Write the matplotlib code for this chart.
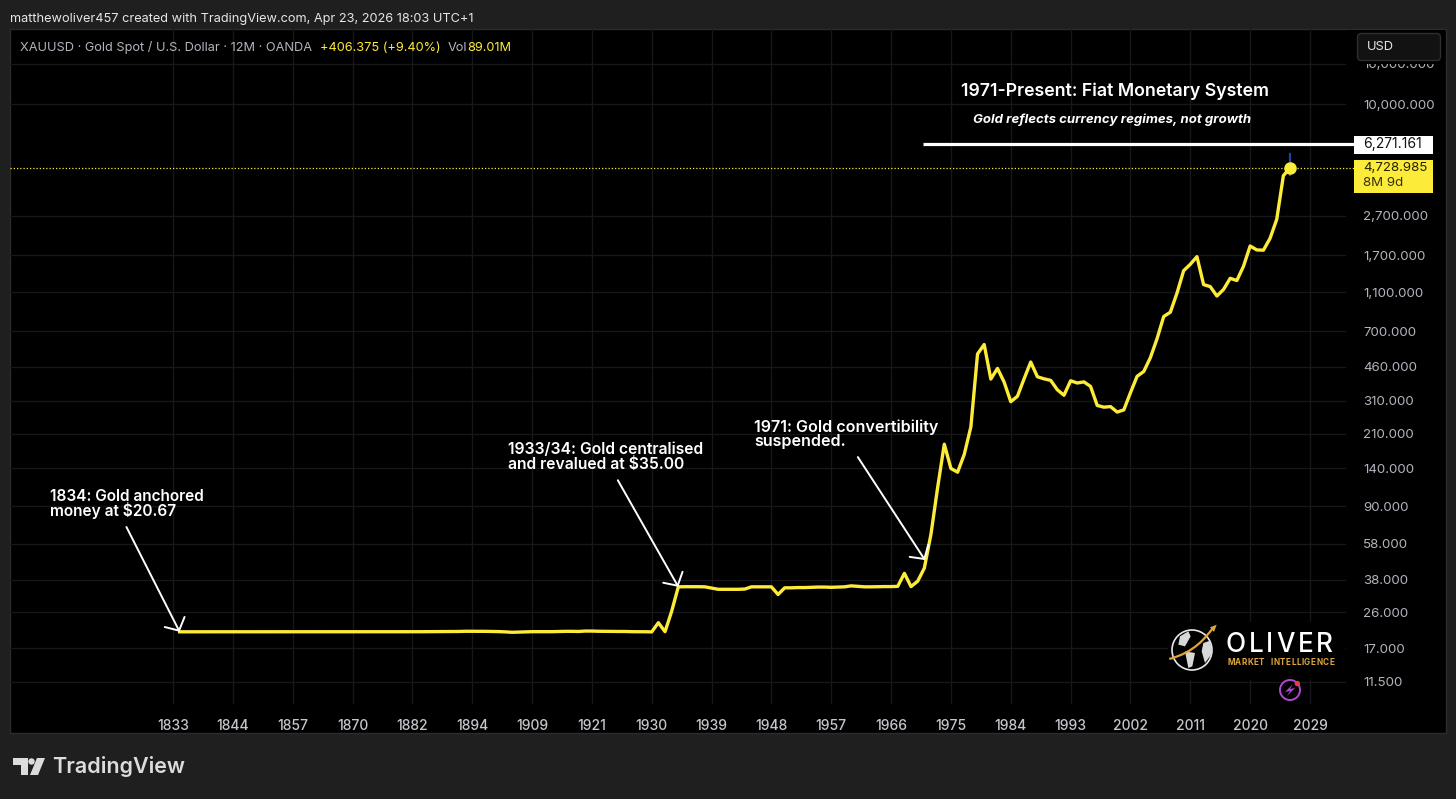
import numpy as np
import matplotlib
matplotlib.use('Agg')
import matplotlib.pyplot as plt
import matplotlib.patches as patches
from matplotlib.path import Path
from matplotlib.ticker import FixedLocator, FixedFormatter, NullLocator

plt.rcParams['font.family'] = ['Inter', 'DejaVu Sans']

# Yearly closes, one per bar. The axis is bar based so early years are skipped.
early_prices = [
    20.67, 20.67, 20.67, 20.67, 20.67, 20.67, 20.67, 20.67, 20.67, 20.67,
    20.67, 20.67, 20.67, 20.67, 20.67, 20.67, 20.67, 20.67, 20.67, 20.67,
    20.67, 20.67, 20.67, 20.67, 20.67, 20.67, 20.67, 20.67, 20.67, 20.67,
    20.67, 20.67, 20.67, 20.67, 20.67, 20.69, 20.69, 20.70, 20.70, 20.72,
    20.72, 20.72, 20.75, 20.80, 20.80, 20.78, 20.78, 20.75, 20.72, 20.65,
    20.55, 20.60, 20.65, 20.70, 20.70, 20.68, 20.70, 20.75, 20.78, 20.78,
    20.75, 20.85, 20.85, 20.80, 20.78, 20.78, 20.75, 20.75, 20.70, 20.70,
    20.68,
]
modern_prices = [
    20.65, 23.0, 20.7, 26.3, 35.0,                            # 1930-34
    35.05, 35.05, 35.05, 35.0, 34.5, 34.0, 34.0, 34.0, 34.0, 34.1,  # 1935-44
    35.0, 35.0, 35.0, 35.0, 32.0, 34.6, 34.6, 34.7, 34.7, 34.8,     # 1945-54
    34.9, 34.9, 34.8, 34.9, 35.0, 35.4, 35.2, 35.0, 35.0, 35.05,    # 1955-64
    35.1, 35.1, 35.2, 41.0, 35.1, 37.4, 43.6, 64.9, 112.0, 186.0,   # 1965-74
    140.0, 134.0, 165.0, 228.0, 535.0, 598.0, 399.0, 452.0, 385.0, 306.0,  # 1975-84
    326.0, 400.0, 487.0, 410.0, 400.0, 393.0, 352.0, 330.0, 391.0, 381.0,  # 1985-94
    386.0, 366.0, 293.0, 287.0, 289.0, 271.0, 278.0, 340.0, 412.0, 436.0,  # 1995-2004
    513.0, 640.0, 830.0, 873.0, 1092.0, 1420.0, 1530.0, 1674.0, 1206.0, 1178.0,  # 2005-14
    1055.0, 1140.0, 1298.0, 1265.0, 1495.0, 1895.0, 1810.0, 1805.0, 2075.0, 2590.0,  # 2015-24
    4322.61, 4728.985,                                        # 2025-26
]
prices = early_prices + modern_prices
bars = np.arange(1, len(prices) + 1)

x_labels = ['1833', '1844', '1857', '1870', '1882', '1894', '1909', '1921', '1930', '1939',
            '1948', '1957', '1966', '1975', '1984', '1993', '2002', '2011', '2020', '2029']
x_ticks = np.arange(len(x_labels)) * 9

y_ticks = [16000, 10000, 2700, 1700, 1100, 700, 460, 310, 210, 140, 90, 58, 38, 26, 17, 11.5]
y_labels = ['16,000.000', '10,000.000', '2,700.000', '1,700.000', '1,100.000', '700.000',
            '460.000', '310.000', '210.000', '140.000', '90.000', '58.000', '38.000',
            '26.000', '17.000', '11.500']

last_price = 4728.985
level_price = 6271.161
wick_low, wick_high = 4350, 5570

W, H = 1456, 799
BG = '#1f1f1f'
YELLOW = '#fdeb3a'
GREY = '#b2b5be'
GRID = '#15171a'

# pixel mapping of the price chart
PLOT_L, PLOT_R, PLOT_T, PLOT_B = 10, 1346, 29, 704
BAR_PX = 6.649
X0_PX = 173
Y10K_PX = 104
DECADE_PX = 196.6

fig = plt.figure(figsize=(W / 100, H / 100), dpi=100, facecolor=BG)

back = fig.add_axes([0, 0, 1, 1], zorder=0)
back.set_xlim(0, W)
back.set_ylim(H, 0)
back.axis('off')
back.add_patch(patches.Rectangle((10, 29), 1436, 704, fc='black', ec='#2c2c2c', lw=1))

ax = fig.add_axes([PLOT_L / W, 1 - PLOT_B / H, (PLOT_R - PLOT_L) / W, (PLOT_B - PLOT_T) / H], zorder=2)
ax.set_facecolor('none')
ax.set_yscale('log')
ax.set_xlim((PLOT_L - X0_PX) / BAR_PX, (PLOT_R - X0_PX) / BAR_PX)
ax.set_ylim(10 ** (4 - (PLOT_B - Y10K_PX) / DECADE_PX), 10 ** (4 + (Y10K_PX - PLOT_T) / DECADE_PX))
for s in ax.spines.values():
    s.set_visible(False)

ax.xaxis.set_major_locator(FixedLocator(x_ticks))
ax.xaxis.set_major_formatter(FixedFormatter(x_labels))
ax.yaxis.set_major_locator(FixedLocator(y_ticks))
ax.yaxis.set_major_formatter(FixedFormatter(y_labels))
ax.yaxis.set_minor_locator(NullLocator())
ax.yaxis.tick_right()
ax.tick_params(axis='x', length=0, pad=10.5, labelsize=10.0, labelcolor='#c4c6cc')
ax.tick_params(axis='y', length=0, pad=12.3, labelsize=9.6, labelcolor=GREY)
for t in ax.get_xticklabels():
    t.set_fontweight('medium')
ax.grid(True, color=GRID, lw=1)
ax.set_axisbelow(True)

x_edge = (1354 - X0_PX) / BAR_PX
ax.plot([(PLOT_L - X0_PX) / BAR_PX, x_edge], [last_price, last_price], color=YELLOW, lw=0.9,
        ls=(0, (1, 1.6)), clip_on=False, zorder=3)
ax.plot([168, 168], [wick_low, wick_high], color='#1f40b0', lw=1.6, zorder=3)
ax.plot(bars, prices, color=YELLOW, lw=2.4, solid_joinstyle='round', zorder=4)
ax.plot([168], [last_price], 'o', color=YELLOW, ms=8, zorder=5)
ax.plot([(923 - X0_PX) / BAR_PX, x_edge], [level_price, level_price], color='white', lw=2.3,
        clip_on=False, solid_capstyle='butt', zorder=4)


def arrow(tail_bar, tail_price, tip_bar, tip_price):
    ax.annotate('', xy=(tip_bar, tip_price), xytext=(tail_bar, tail_price), zorder=6,
                arrowprops=dict(arrowstyle='->,head_length=7,head_width=8', color='white', lw=1.4,
                                shrinkA=0, shrinkB=0, mutation_scale=1))


arrow(-7.0, 70.5, 1, 20.67)
arrow(66.9, 122.0, 76, 35.0)
arrow(103.0, 160.0, 113.1, 47.9)

# everything else sits on a pixel overlay
top = fig.add_axes([0, 0, 1, 1], zorder=5)
top.set_xlim(0, W)
top.set_ylim(H, 0)
top.axis('off')
top.patch.set_alpha(0)


def label(x, y, s, size, color='white', weight='normal', ha='left', style='normal', **kw):
    return top.text(x, y, s, fontsize=size, color=color, fontweight=weight, ha=ha, va='center',
                    fontstyle=style, **kw)


def tracked(x0, x1, y, s, size, color, weight):
    # spread the letters out so the word runs from x0 to x1
    renderer = fig.canvas.get_renderer()
    widths = []
    for ch in s:
        t = label(0, 0, ch if ch != ' ' else 'n', size, color, weight)
        widths.append(t.get_window_extent(renderer).width)
        t.remove()
    gap = (x1 - x0 - sum(widths)) / (len(s) - 1)
    x = x0
    for ch, w in zip(s, widths):
        if ch != ' ':
            top.text(x, y, ch, fontsize=size, color=color, fontweight=weight, ha='left', va='baseline')
        x += w + gap


# header and legend
label(10, 19, 'matthewoliver457 created with TradingView.com, Apr 23, 2026 18:03 UTC+1', 9.2, '#e6e6e6')
label(20, 48, 'XAUUSD · Gold Spot / U.S. Dollar · 12M · OANDA', 9.2, GREY)
label(320, 48, '+406.375 (+9.40%)', 9.2, YELLOW)
label(448, 48, 'Vol', 9.2, GREY)
label(467, 48, '89.01M', 9.2, YELLOW)

# USD box hides the top price label
top.add_patch(patches.Rectangle((1347, 30), 98, 33.5, fc='black', ec='none'))
top.add_patch(patches.FancyBboxPatch((1357.5, 33.5), 83, 27, boxstyle='round,pad=0,rounding_size=4',
                                     fc='#121212', ec='#2e2e2e', lw=1))
label(1367, 47, 'USD', 9.3, '#e6e6e6')

# price labels
top.add_patch(patches.Rectangle((1354, 136), 79, 18, fc='white', ec='none'))
label(1363, 144, '6,271.161', 10.0, '#111111')
top.add_patch(patches.Rectangle((1354, 160), 79, 33, fc=YELLOW, ec='none'))
label(1363, 168, '4,728.985', 9.6, '#222200')
label(1363, 183, '8M 9d', 9.6, '#33330a')

# annotations
label(961, 91, '1971-Present: Fiat Monetary System', 12.75, weight='semibold')
label(973, 119.5, 'Gold reflects currency regimes, not growth', 9.5, weight='bold', style='italic')
notes = [(50, 504, '1834: Gold anchored\nmoney at $20.67', 11.1),
         (508, 457, '1933/34: Gold centralised\nand revalued at $35.00', 11.3),
         (754, 434, '1971: Gold convertibility\nsuspended.', 11.6)]
for nx, ny, s, size in notes:
    top.text(nx, ny, s, fontsize=size, color='white', fontweight='semibold', ha='left', va='center', linespacing=0.92)

# Oliver logo
top.add_patch(patches.Rectangle((1168, 622), 177, 58, fc='black', ec='none'))
top.add_patch(patches.Circle((1192, 650), 20, fc='none', ec='#e8e8e8', lw=1.2))
land = [[(60, 55), (85, 40), (92, 55), (75, 85), (55, 80)],
        [(130, 75), (150, 68), (157, 105), (135, 135), (125, 100)],
        [(75, 100), (105, 105), (97, 145), (85, 150)]]
for poly in land:
    top.add_patch(patches.Polygon([(1160 + a / 3, 618 + b / 3) for a, b in poly], fc='#d8d8d8', ec='none'))
GOLD = '#dca63c'
curve = Path([(1169.3, 659), (1195, 652), (1205, 638), (1213, 628)],
             [Path.MOVETO, Path.CURVE4, Path.CURVE4, Path.CURVE4])
top.add_patch(patches.PathPatch(curve, fc='none', ec=GOLD, lw=1.6))
top.add_patch(patches.Polygon([(1210, 627.3), (1216.7, 624.7), (1214, 632)], fc=GOLD, ec='none'))
tracked(1225.5, 1333, 652.5, 'OLIVER', 18.8, 'white', 'medium')
tracked(1227, 1334, 665, 'MARKET INTELLIGENCE', 5.9, GOLD, 'bold')

# purple badge
top.add_patch(patches.Circle((1290, 690), 10, fc='black', ec='#b246d0', lw=1.4))
top.add_patch(patches.Polygon([(1293, 684), (1285, 692), (1290, 691), (1287, 696), (1295, 688), (1290, 689)],
                              fc='#b246d0', ec='none'))
top.add_patch(patches.Circle((1297.3, 683.5), 2.7, fc='#f23645', ec='none'))

# TradingView logo
LOGO = '#dcdcdc'
top.add_patch(patches.Polygon([(13, 758), (28, 758), (28, 775), (21, 775), (21, 765), (13, 765)], fc=LOGO, ec='none'))
top.add_patch(patches.Circle((31.5, 761.5), 3.2, fc=LOGO, ec='none'))
top.add_patch(patches.Polygon([(37, 758), (45, 758), (38, 775), (30, 775)], fc=LOGO, ec='none'))
top.text(52, 766.5, 'TradingView', fontsize=15.5, color=LOGO, fontweight='semibold', ha='left', va='center')

fig.savefig('out.png', dpi=100, facecolor=BG)
